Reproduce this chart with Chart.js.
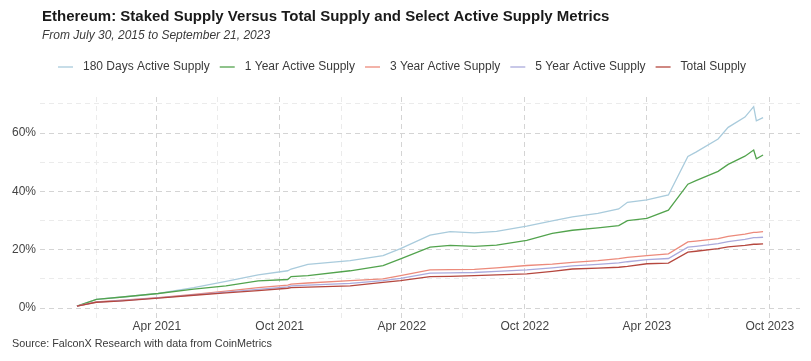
<!DOCTYPE html>
<html>
<head>
<meta charset="utf-8">
<script src="https://cdn.jsdelivr.net/npm/chart.js@4.4.0/dist/chart.umd.min.js"></script>
<style>
  html, body { margin: 0; padding: 0; background: #ffffff; }
  #wrap { width: 811px; height: 361px; }
</style>
</head>
<body>
<div id="wrap"><canvas id="c" width="811" height="361"></canvas></div>
<script>
// ---- Data (percent of each supply metric that is staked) ----
const dates = ['2020-12-03','2021-01-01','2021-02-09','2021-04-03','2021-05-26','2021-07-13','2021-08-30','2021-10-13','2021-10-18','2021-11-12','2022-01-14','2022-03-04','2022-03-30','2022-05-13','2022-06-12','2022-07-18','2022-08-20','2022-10-04','2022-11-11','2022-12-11','2023-01-18','2023-02-18','2023-03-03','2023-04-01','2023-05-03','2023-06-01','2023-06-13','2023-07-16','2023-07-31','2023-08-25','2023-09-07','2023-09-11','2023-09-21'];
const days180 = [0.7,3.0,3.8,5.0,7.0,9.2,11.4,12.8,13.4,15.0,16.3,18.0,20.4,25.0,26.2,25.8,26.3,28.1,29.9,31.3,32.5,34.0,36.3,37.1,38.8,52.0,53.5,58.0,62.0,65.5,69.1,64.2,65.3];
const year1 = [0.7,3.0,3.8,5.0,6.5,7.6,9.3,9.8,10.8,11.1,12.8,14.6,16.9,20.9,21.5,21.2,21.6,23.2,25.6,26.7,27.5,28.3,30.0,30.8,33.6,42.5,43.7,46.9,49.3,52.1,54.2,51.2,52.5];
const year3 = [0.7,2.1,2.7,3.6,4.7,5.8,7.0,7.9,8.2,8.6,9.4,10.0,11.1,13.1,13.2,13.3,13.8,14.6,15.1,15.7,16.3,17.0,17.4,18.0,18.6,22.7,23.0,23.8,24.6,25.4,26.0,26.0,26.2];
const year5 = [0.7,2.05,2.6,3.5,4.55,5.5,6.4,7.3,7.6,7.9,8.5,9.4,10.2,12.0,12.1,12.2,12.6,13.1,13.8,14.5,15.0,15.5,15.9,16.6,17.0,20.9,21.2,22.1,22.8,23.6,24.2,24.2,24.3];
const totalSupply = [0.7,2.0,2.5,3.4,4.4,5.2,6.0,6.8,7.0,7.2,7.6,8.8,9.4,10.8,10.9,11.1,11.4,11.7,12.6,13.4,13.7,14.0,14.3,15.2,15.4,19.2,19.5,20.4,21.0,21.5,21.9,21.9,22.0];
const seriesNames = ['180 Days Active Supply','1 Year Active Supply','3 Year Active Supply','5 Year Active Supply','Total Supply'];
const yTickValues = [0,10,20,30,40,50,60,70];
const yTickLabels = {0:'0%',20:'20%',40:'40%',60:'60%'};
const monthNames = ['Jan','Feb','Mar','Apr','May','Jun','Jul','Aug','Sep','Oct','Nov','Dec'];
const titleText = 'Ethereum: Staked Supply Versus Total Supply and Select Active Supply Metrics';
const subtitleText = 'From July 30, 2015 to September 21, 2023';
const sourceText = 'Source: FalconX Research with data from CoinMetrics';

// ---- Styles ----
const colors = ['#a9cbdc','#52a34d','#ec8a7b','#aaaadc','#b5473e'];
const FONT = "'Liberation Sans', Arial, Helvetica, sans-serif";
const xMin = Date.UTC(2020, 9, 9);
const xMax = Date.UTC(2023, 10, 15);

function ts(s) { const p = s.split('-').map(Number); return Date.UTC(p[0], p[1]-1, p[2]); }
function pts(vals) { return dates.map((d, i) => ({ x: ts(d), y: vals[i] })); }

const seriesValues = [days180, year1, year3, year5, totalSupply];
const datasets = seriesValues.map((v, i) => ({
  label: seriesNames[i],
  data: pts(v),
  borderColor: colors[i],
  backgroundColor: colors[i],
  borderWidth: 1.3,
  pointRadius: 0,
  tension: 0,
  order: 5 - i
}));

function isMajorMonth(v) { const m = new Date(v).getUTCMonth(); return m === 3 || m === 9; }

const textPlugin = {
  id: 'texts',
  afterDraw(chart) {
    const ctx = chart.ctx;
    ctx.save();
    ctx.textBaseline = 'middle';
    ctx.textAlign = 'left';
    ctx.fillStyle = '#1a1a1a';
    ctx.font = 'bold 15px ' + FONT;
    ctx.fillText(titleText, 42, 17);
    ctx.fillStyle = '#3a3a3a';
    ctx.font = 'italic 12px ' + FONT;
    ctx.fillText(subtitleText, 42, 36);
    // legend
    ctx.font = '12px ' + FONT;
    let x = 58;
    const y = 67;
    seriesNames.forEach((n, i) => {
      ctx.strokeStyle = colors[i];
      ctx.lineWidth = 1.3;
      ctx.beginPath();
      ctx.moveTo(x, y);
      ctx.lineTo(x + 15, y);
      ctx.stroke();
      x += 25;
      ctx.fillStyle = '#3a3a3a';
      ctx.fillText(n, x, y);
      x += ctx.measureText(n).width + 10;
    });
    // source
    ctx.fillStyle = '#3a3a3a';
    ctx.font = '10.8px ' + FONT;
    ctx.fillText(sourceText, 12, 344);
    ctx.restore();
  }
};

new Chart(document.getElementById('c'), {
  type: 'line',
  data: { datasets },
  options: {
    responsive: false,
    animation: false,
    events: [],
    layout: { padding: { top: 97, right: 11, bottom: 29, left: 0 } },
    plugins: { legend: { display: false }, tooltip: { enabled: false }, title: { display: false } },
    scales: {
      x: {
        type: 'linear',
        min: xMin,
        max: xMax,
        afterBuildTicks(scale) {
          const t = [];
          for (let yr = 2020; yr <= 2024; yr++) {
            for (let m = 0; m < 12; m += 3) {
              const v = Date.UTC(yr, m, 1);
              if (v >= xMin && v <= xMax) t.push({ value: v });
            }
          }
          scale.ticks = t;
        },
        afterFit(scale) { scale.height = 14; },
        ticks: {
          autoSkip: false,
          maxRotation: 0,
          padding: 1,
          color: '#444444',
          font: { family: FONT, size: 12 },
          callback(v) {
            if (!isMajorMonth(v)) return '';
            const d = new Date(v);
            return monthNames[d.getUTCMonth()] + ' ' + d.getUTCFullYear();
          }
        },
        grid: {
          drawTicks: false,
          lineWidth: 1,
          color: (c) => (c.tick && isMajorMonth(c.tick.value)) ? '#d4d4d4' : '#ebebeb'
        },
        border: { display: false, dash: [5, 4] }
      },
      y: {
        type: 'linear',
        min: -3.4,
        max: 72.4,
        afterBuildTicks(scale) { scale.ticks = yTickValues.map(v => ({ value: v })); },
        afterFit(scale) { scale.width = 40; },
        ticks: {
          padding: 4,
          color: '#444444',
          font: { family: FONT, size: 12 },
          callback(v) { return yTickLabels[v] !== undefined ? yTickLabels[v] : ''; }
        },
        grid: {
          drawTicks: false,
          lineWidth: 1,
          color: (c) => (c.tick && c.tick.value % 20 === 0) ? '#d4d4d4' : '#ebebeb'
        },
        border: { display: false, dash: [5, 4] }
      }
    }
  },
  plugins: [textPlugin]
});
</script>
</body>
</html>
